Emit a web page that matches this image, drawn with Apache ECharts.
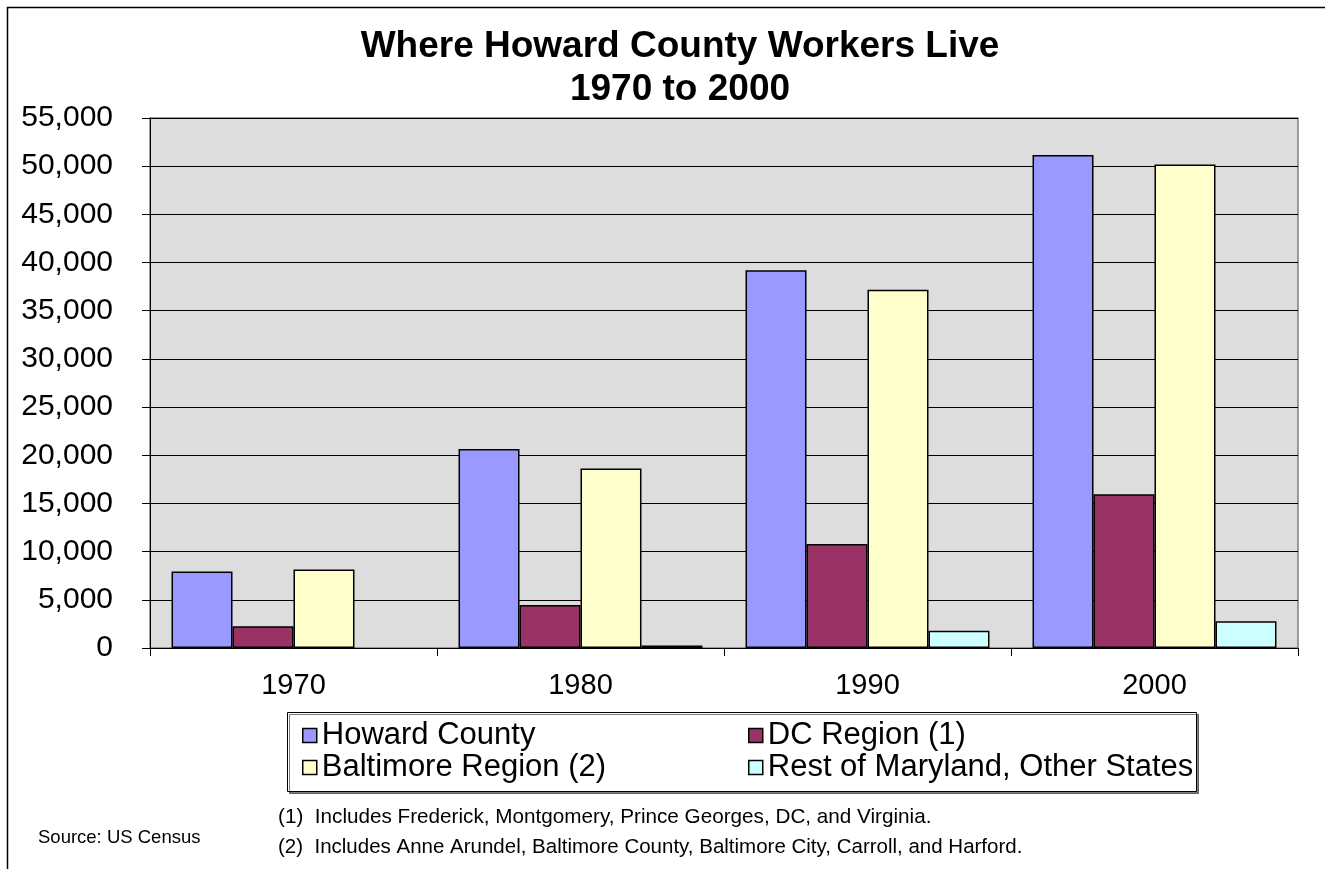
<!DOCTYPE html>
<html>
<head>
<meta charset="utf-8">
<script src="https://cdn.jsdelivr.net/npm/echarts@6/dist/echarts.min.js"></script>
<style>
html,body{margin:0;padding:0;background:#fff;}
#main{width:1325px;height:869px;}
</style>
</head>
<body>
<div id="main"></div>
<script>
var categories = ['1970', '1980', '1990', '2000'];
var howardCounty = [7950, 20650, 39200, 51170];
var dcRegion = [2250, 4450, 10780, 15950];
var baltimoreRegion = [8150, 18620, 37170, 50180];
var restOfMaryland = [null, 250, 1800, 2780];
var seriesNames = ['Howard County', 'DC Region (1)', 'Baltimore Region (2)', 'Rest of Maryland, Other States'];
var seriesColors = ['#9999FF', '#993366', '#FFFFCC', '#CCFFFF'];
var yTicks = { min: 0, max: 55000, interval: 5000 };

var FONT = 'Liberation Sans, Arial, sans-serif';
var chart = echarts.init(document.getElementById('main'));

function barSeries(name, data, color) {
  return {
    name: name,
    type: 'bar',
    data: data,
    barGap: '0%',
    barCategoryGap: '15%',
    itemStyle: { color: color, borderColor: '#000', borderWidth: 1.5 },
    emphasis: { disabled: true }
  };
}

function legendItem(name, left, top) {
  return {
    data: [name],
    left: left,
    top: top,
    icon: 'rect',
    itemWidth: 14,
    itemHeight: 14,
    itemGap: 0,
    padding: 0,
    selectedMode: false,
    itemStyle: { borderColor: '#000', borderWidth: 1.5 },
    textStyle: { fontFamily: FONT, fontSize: 31, lineHeight: 31, color: '#000', padding: [0, 0, 0, 0] }
  };
}

var option = {
  backgroundColor: '#fff',
  animation: false,
  title: {
    text: 'Where Howard County Workers Live\n1970 to 2000',
    left: 680,
    top: 25,
    padding: 0,
    textAlign: 'center',
    textStyle: { fontFamily: FONT, fontSize: 37, fontWeight: 'bold', color: '#000', lineHeight: 43 }
  },
  grid: {
    left: 150, right: 27, top: 118, bottom: 221,
    show: true, backgroundColor: '#DDDDDD', borderColor: '#808080', borderWidth: 1.5
  },
  legend: [
    legendItem(seriesNames[0], 302, 720),
    legendItem(seriesNames[1], 748, 720),
    legendItem(seriesNames[2], 302, 752),
    legendItem(seriesNames[3], 748, 752)
  ],
  xAxis: {
    type: 'category',
    data: categories,
    axisLine: { lineStyle: { color: '#000', width: 1 } },
    axisTick: { show: true, length: 8, lineStyle: { color: '#000' } },
    axisLabel: { fontFamily: FONT, fontSize: 29, color: '#000', margin: 23 }
  },
  yAxis: {
    type: 'value',
    min: yTicks.min,
    max: yTicks.max,
    interval: yTicks.interval,
    axisLine: { show: true, lineStyle: { color: '#000', width: 1 } },
    axisTick: { show: true, length: 8, lineStyle: { color: '#000' } },
    axisLabel: {
      fontFamily: FONT, fontSize: 30, color: '#000', margin: 37,
      formatter: function (v) { return v.toString().replace(/\B(?=(\d{3})+(?!\d))/g, ','); }
    },
    splitLine: { show: true, lineStyle: { color: '#000', width: 1 } }
  },
  series: [
    barSeries(seriesNames[0], howardCounty, seriesColors[0]),
    barSeries(seriesNames[1], dcRegion, seriesColors[1]),
    barSeries(seriesNames[2], baltimoreRegion, seriesColors[2]),
    barSeries(seriesNames[3], restOfMaryland, seriesColors[3])
  ],
  graphic: [
    { type: 'rect', shape: { x: 7.5, y: 7.5, width: 1340, height: 900 }, style: { fill: 'none', stroke: '#000', lineWidth: 1.5 }, silent: true, z: -10 },
    { type: 'rect', shape: { x: 287.5, y: 712.5, width: 909, height: 79 },
      style: { fill: '#fff', stroke: '#000', lineWidth: 1, shadowColor: 'rgba(0,0,0,0.5)', shadowOffsetX: 2, shadowOffsetY: 2, shadowBlur: 0 }, silent: true, z: -5 },
    { type: 'text', left: 278, top: 807, style: { text: '(1)  Includes Frederick, Montgomery, Prince Georges, DC, and Virginia.', font: '20.7px ' + FONT, fill: '#000' } },
    { type: 'text', left: 278, top: 837, style: { text: '(2)  Includes Anne Arundel, Baltimore County, Baltimore City, Carroll, and Harford.', font: '20.5px ' + FONT, fill: '#000' } },
    { type: 'text', left: 38, top: 828, style: { text: 'Source: US Census', font: '18.5px ' + FONT, fill: '#000' } }
  ]
};
chart.setOption(option);
</script>
</body>
</html>
